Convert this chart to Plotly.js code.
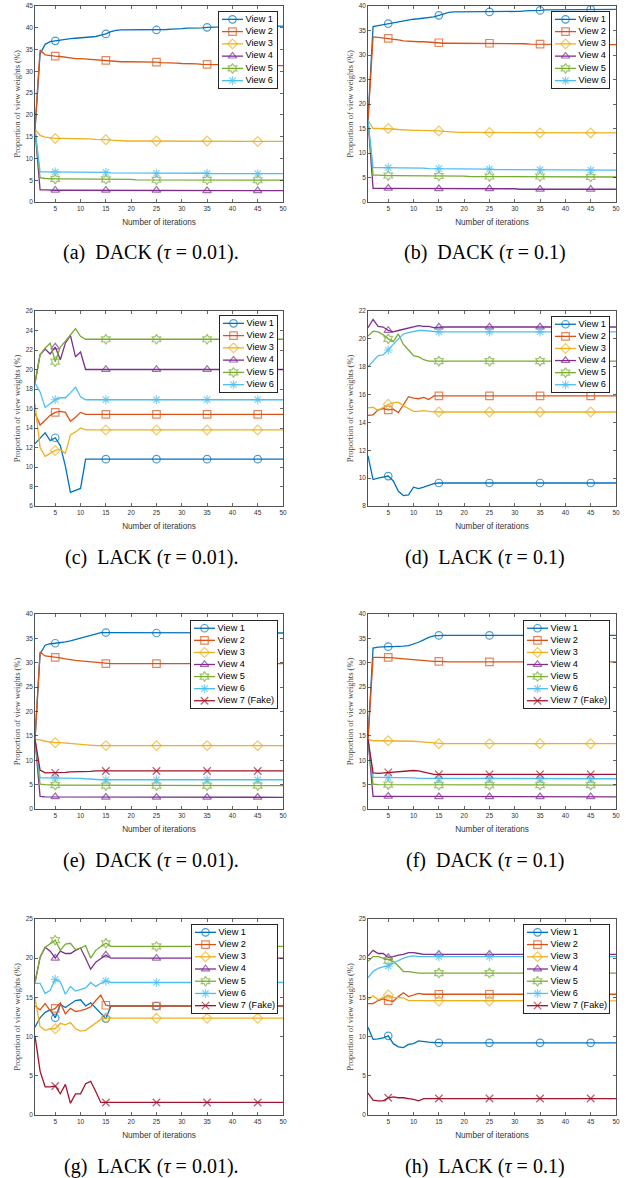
<!DOCTYPE html>
<html><head><meta charset="utf-8">
<script src="https://cdn.plot.ly/plotly-3.0.1.min.js"></script>
<style>html,body{margin:0;padding:0;background:#fff}#chart{width:639px;height:1178px}</style>
</head><body><div id="chart"></div>
<script>
// ---------------- DATA ----------------
const iterations = [1,2,3,4,5,6,7,8,9,10,11,12,13,14,15,16,17,18,19,20,21,22,23,24,25,26,27,28,29,30,31,32,33,34,35,36,37,38,39,40,41,42,43,44,45,46,47,48,49,50];
const viewNames = ['View 1','View 2','View 3','View 4','View 5','View 6','View 7 (Fake)'];
const markerIterations = [5,15,25,35,45];
const panelCaptions = [
  '(a)\u00a0 DACK (<i>\u03c4</i> = 0.01).',
  '(b)\u00a0 DACK (<i>\u03c4</i> = 0.1)',
  '(c)\u00a0 LACK (<i>\u03c4</i> = 0.01).',
  '(d)\u00a0 LACK (<i>\u03c4</i> = 0.1)',
  '(e)\u00a0 DACK (<i>\u03c4</i> = 0.01).',
  '(f)\u00a0 DACK (<i>\u03c4</i> = 0.1)',
  '(g)\u00a0 LACK (<i>\u03c4</i> = 0.01).',
  '(h)\u00a0 LACK (<i>\u03c4</i> = 0.1)'
];
const yRanges = [[0,45],[0,40],[6,26],[8,22],[0,40],[0,40],[0,25],[0,25]];
const yTickSteps = [5,5,2,2,5,5,5,5];

// (a) DACK tau=0.01
const a_v1 = [16.67,34.0,36.2,36.8,37.0,37.2,37.4,37.5,37.6,37.7,
 37.8,37.9,38.0,38.3,38.6,39.1,39.4,39.5,39.5,39.5,
 39.5,39.5,39.5,39.5,39.5,39.6,39.6,39.7,39.7,39.8,
 39.9,39.9,40.0,40.0,40.1,40.1,40.2,40.2,40.3,40.3,
 40.3,40.4,40.4,40.4,40.4,40.4,40.4,40.4,40.4,40.4];
const a_v2 = [16.67,34.9,33.8,33.6,33.5,33.4,33.2,33.0,32.9,32.9,
 32.8,32.8,32.7,32.6,32.5,32.4,32.3,32.2,32.2,32.2,
 32.2,32.1,32.1,32.1,32.1,32.0,32.0,31.9,31.9,31.8,
 31.8,31.7,31.7,31.6,31.6,31.6,31.5,31.5,31.5,31.5,
 31.4,31.4,31.4,31.4,31.3,31.3,31.3,31.3,31.3,31.3];
const a_v3 = [16.67,15.3,14.9,14.7,14.6,14.6,14.6,14.5,14.5,14.5,
 14.5,14.5,14.4,14.4,14.3,14.2,14.1,14.0,14.0,14.0,
 14.0,14.0,14.0,14.0,14.0,14.0,14.0,14.0,14.0,14.0,
 14.0,14.0,14.0,14.0,14.0,13.9,13.9,13.9,13.9,13.9,
 13.9,13.9,13.9,13.9,13.9,13.9,13.9,13.9,13.9,13.9];
const a_v4 = [16.67,2.8,2.8,2.7,2.7,2.7,2.7,2.7,2.7,2.7,
 2.7,2.7,2.7,2.7,2.7,2.7,2.7,2.7,2.7,2.7,
 2.7,2.7,2.7,2.7,2.7,2.7,2.7,2.7,2.7,2.7,
 2.6,2.6,2.6,2.6,2.6,2.6,2.6,2.6,2.6,2.6,
 2.6,2.6,2.6,2.6,2.6,2.6,2.6,2.6,2.6,2.6];
const a_v5 = [16.67,5.6,5.4,5.3,5.3,5.3,5.3,5.3,5.3,5.2,
 5.2,5.2,5.2,5.2,5.2,5.2,5.2,5.2,5.2,5.2,
 5.1,5.1,5.1,5.1,5.1,5.1,5.1,5.1,5.1,5.1,
 5.1,5.1,5.1,5.1,5.1,5.1,5.1,5.1,5.1,5.1,
 5.0,5.0,5.0,5.0,5.0,5.0,5.0,5.0,5.0,5.0];
const a_v6 = [16.67,6.9,6.9,6.9,6.9,6.9,6.8,6.8,6.8,6.8,
 6.8,6.8,6.8,6.8,6.8,6.7,6.7,6.7,6.7,6.7,
 6.6,6.6,6.6,6.6,6.6,6.6,6.6,6.6,6.6,6.6,
 6.6,6.6,6.6,6.6,6.6,6.5,6.5,6.5,6.5,6.5,
 6.5,6.5,6.5,6.5,6.5,6.5,6.5,6.5,6.5,6.5];

// (b) DACK tau=0.1
const b_v1 = [16.67,35.8,36.0,36.2,36.4,36.6,36.8,37.0,37.2,37.3,
 37.4,37.5,37.6,37.8,38.1,38.4,38.7,38.8,38.8,38.8,
 38.8,38.8,38.8,38.8,38.8,38.8,38.8,38.8,38.8,38.9,
 38.9,39.0,39.0,39.1,39.1,39.2,39.2,39.2,39.2,39.2,
 39.3,39.3,39.3,39.3,39.3,39.3,39.3,39.3,39.3,39.3];
const b_v2 = [16.67,33.7,33.6,33.5,33.4,33.3,33.1,32.9,32.8,32.8,
 32.7,32.7,32.6,32.6,32.5,32.4,32.4,32.4,32.4,32.4,
 32.4,32.4,32.4,32.4,32.4,32.3,32.3,32.3,32.3,32.3,
 32.3,32.3,32.2,32.2,32.2,32.2,32.1,32.1,32.1,32.1,
 32.1,32.1,32.1,32.1,32.1,32.1,32.1,32.1,32.1,32.1];
const b_v3 = [16.67,15.0,15.0,15.0,15.0,14.9,14.8,14.7,14.6,14.6,
 14.6,14.6,14.5,14.5,14.5,14.4,14.3,14.2,14.2,14.2,
 14.2,14.2,14.2,14.2,14.2,14.2,14.2,14.2,14.2,14.2,
 14.1,14.1,14.1,14.1,14.1,14.1,14.1,14.1,14.1,14.1,
 14.1,14.1,14.1,14.1,14.1,14.1,14.1,14.1,14.1,14.1];
const b_v4 = [16.67,2.8,2.8,2.8,2.8,2.7,2.7,2.7,2.7,2.7,
 2.7,2.7,2.7,2.7,2.7,2.7,2.7,2.7,2.7,2.7,
 2.7,2.7,2.7,2.7,2.7,2.7,2.7,2.7,2.7,2.7,
 2.6,2.6,2.6,2.6,2.6,2.6,2.6,2.6,2.6,2.6,
 2.6,2.6,2.6,2.6,2.6,2.6,2.6,2.6,2.6,2.6];
const b_v5 = [16.67,5.5,5.5,5.4,5.4,5.4,5.4,5.4,5.4,5.3,
 5.3,5.3,5.3,5.3,5.3,5.3,5.3,5.3,5.3,5.3,
 5.2,5.2,5.2,5.2,5.2,5.2,5.2,5.2,5.2,5.2,
 5.2,5.2,5.2,5.2,5.2,5.1,5.1,5.1,5.1,5.1,
 5.1,5.1,5.1,5.1,5.1,5.1,5.1,5.1,5.1,5.1];
const b_v6 = [16.67,7.0,7.0,7.0,7.0,6.9,6.9,6.9,6.9,6.9,
 6.9,6.9,6.8,6.8,6.8,6.8,6.8,6.8,6.7,6.7,
 6.7,6.7,6.7,6.7,6.7,6.6,6.6,6.6,6.6,6.6,
 6.6,6.6,6.6,6.6,6.6,6.6,6.6,6.6,6.6,6.6,
 6.5,6.5,6.5,6.5,6.5,6.5,6.5,6.5,6.5,6.5];

// (c) LACK tau=0.01
const c_v1 = [12.4,13.0,13.5,12.7,13.0,12.2,10.1,7.4,7.6,7.8,
 10.8,10.8,10.8,10.8,10.8,10.8,10.8,10.8,10.8,10.8,
 10.8,10.8,10.8,10.8,10.8,10.8,10.8,10.8,10.8,10.8,
 10.8,10.8,10.8,10.8,10.8,10.8,10.8,10.8,10.8,10.8,
 10.8,10.8,10.8,10.8,10.8,10.8,10.8,10.8,10.8,10.8];
const c_v2 = [15.5,14.3,14.8,15.3,15.6,15.7,15.6,14.7,15.1,15.6,
 15.4,15.4,15.4,15.4,15.4,15.4,15.4,15.4,15.4,15.4,
 15.4,15.4,15.4,15.4,15.4,15.4,15.4,15.4,15.4,15.4,
 15.4,15.4,15.4,15.4,15.4,15.4,15.4,15.4,15.4,15.4,
 15.4,15.4,15.4,15.4,15.4,15.4,15.4,15.4,15.4,15.4];
const c_v3 = [16.5,12.0,11.1,11.4,11.7,11.8,11.4,13.3,13.6,14.0,
 13.8,13.8,13.8,13.8,13.8,13.8,13.8,13.8,13.8,13.8,
 13.8,13.8,13.8,13.8,13.8,13.8,13.8,13.8,13.8,13.8,
 13.8,13.8,13.8,13.8,13.8,13.8,13.8,13.8,13.8,13.8,
 13.8,13.8,13.8,13.8,13.8,13.8,13.8,13.8,13.8,13.8];
const c_v4 = [18.6,21.5,22.1,21.6,22.3,21.0,22.7,23.5,21.3,21.8,
 20.0,20.0,20.0,20.0,20.0,20.0,20.0,20.0,20.0,20.0,
 20.0,20.0,20.0,20.0,20.0,20.0,20.0,20.0,20.0,20.0,
 20.0,20.0,20.0,20.0,20.0,20.0,20.0,20.0,20.0,20.0,
 20.0,20.0,20.0,20.0,20.0,20.0,20.0,20.0,20.0,20.0];
const c_v5 = [18.6,21.5,22.2,22.7,20.8,22.3,22.9,23.5,24.2,23.4,
 23.1,23.1,23.1,23.1,23.1,23.1,23.1,23.1,23.1,23.1,
 23.1,23.1,23.1,23.1,23.1,23.1,23.1,23.1,23.1,23.1,
 23.1,23.1,23.1,23.1,23.1,23.1,23.1,23.1,23.1,23.1,
 23.1,23.1,23.1,23.1,23.1,23.1,23.1,23.1,23.1,23.1];
const c_v6 = [18.6,17.7,16.1,16.5,16.9,17.1,17.1,17.6,18.2,17.2,
 16.9,16.9,16.9,16.9,16.9,16.9,16.9,16.9,16.9,16.9,
 16.9,16.9,16.9,16.9,16.9,16.9,16.9,16.9,16.9,16.9,
 16.9,16.9,16.9,16.9,16.9,16.9,16.9,16.9,16.9,16.9,
 16.9,16.9,16.9,16.9,16.9,16.9,16.9,16.9,16.9,16.9];

// (d) LACK tau=0.1
const d_v1 = [11.6,9.9,10.0,10.1,10.15,9.8,9.05,8.75,8.8,9.35,
 9.25,9.35,9.5,9.6,9.65,9.65,9.65,9.65,9.65,9.65,
 9.65,9.65,9.65,9.65,9.65,9.65,9.65,9.65,9.65,9.65,
 9.65,9.65,9.65,9.65,9.65,9.65,9.65,9.65,9.65,9.65,
 9.65,9.65,9.65,9.65,9.65,9.65,9.65,9.65,9.65,9.65];
const d_v2 = [14.5,14.55,14.9,15.0,14.9,14.95,14.7,15.3,15.85,15.75,
 15.7,15.8,15.65,15.9,15.9,15.9,15.9,15.9,15.9,15.9,
 15.9,15.9,15.9,15.9,15.9,15.9,15.9,15.9,15.9,15.9,
 15.9,15.9,15.9,15.9,15.9,15.9,15.9,15.9,15.9,15.9,
 15.9,15.9,15.9,15.9,15.9,15.9,15.9,15.9,15.9,15.9];
const d_v3 = [15.05,15.1,14.85,15.05,15.3,15.4,15.45,15.2,15.0,14.8,
 14.8,14.85,14.8,14.75,14.75,14.75,14.75,14.75,14.75,14.75,
 14.75,14.75,14.75,14.75,14.75,14.75,14.75,14.75,14.75,14.75,
 14.75,14.75,14.75,14.75,14.75,14.75,14.75,14.75,14.75,14.75,
 14.75,14.75,14.75,14.75,14.75,14.75,14.75,14.75,14.75,14.75];
const d_v4 = [20.8,21.4,20.9,20.85,20.6,20.5,20.6,20.7,20.8,20.9,
 20.95,20.9,20.9,20.8,20.85,20.85,20.85,20.85,20.85,20.85,
 20.85,20.85,20.85,20.85,20.85,20.85,20.85,20.85,20.85,20.85,
 20.85,20.85,20.85,20.85,20.85,20.85,20.85,20.85,20.85,20.85,
 20.85,20.85,20.85,20.85,20.85,20.85,20.85,20.85,20.85,20.85];
const d_v5 = [20.2,20.55,20.5,20.3,20.0,19.8,20.35,19.6,19.2,18.8,
 18.7,18.5,18.4,18.4,18.4,18.4,18.4,18.4,18.4,18.4,
 18.4,18.4,18.4,18.4,18.4,18.4,18.4,18.4,18.4,18.4,
 18.4,18.4,18.4,18.4,18.4,18.4,18.4,18.4,18.4,18.4,
 18.4,18.4,18.4,18.4,18.4,18.4,18.4,18.4,18.4,18.4];
const d_v6 = [18.0,18.4,18.8,18.85,19.2,19.6,20.0,20.35,20.45,20.55,
 20.6,20.6,20.55,20.5,20.5,20.5,20.5,20.5,20.5,20.5,
 20.5,20.5,20.5,20.5,20.5,20.5,20.5,20.5,20.5,20.5,
 20.5,20.5,20.5,20.5,20.5,20.5,20.5,20.5,20.5,20.5,
 20.5,20.5,20.5,20.5,20.5,20.5,20.5,20.5,20.5,20.5];

// (e) DACK tau=0.01 with fake view
const e_v1 = [14.29,31.8,33.6,33.9,34.0,34.1,34.3,34.5,34.8,35.1,
 35.4,35.7,36.0,36.2,36.2,36.2,36.2,36.2,36.1,36.1,
 36.1,36.1,36.1,36.1,36.1,36.1,36.1,36.1,36.1,36.1,
 36.1,36.1,36.1,36.1,36.1,36.1,36.1,36.1,36.1,36.1,
 36.1,36.1,36.1,36.1,36.1,36.1,36.1,36.1,36.1,36.1];
const e_v2 = [14.29,32.2,31.4,31.3,31.1,31.0,30.8,30.6,30.5,30.4,
 30.3,30.2,30.0,29.9,29.8,29.8,29.8,29.8,29.8,29.8,
 29.8,29.8,29.8,29.8,29.8,29.8,29.8,29.8,29.8,29.8,
 29.8,29.8,29.8,29.8,29.8,29.8,29.8,29.8,29.8,29.8,
 29.8,29.8,29.8,29.8,29.8,29.8,29.8,29.8,29.8,29.8];
const e_v3 = [14.29,14.2,13.9,13.7,13.6,13.6,13.5,13.5,13.4,13.3,
 13.2,13.1,13.0,13.0,13.0,13.0,13.0,13.0,13.0,13.0,
 13.0,13.0,13.0,13.0,13.0,13.0,13.0,13.0,13.0,13.0,
 13.0,13.0,13.0,13.0,13.0,13.0,13.0,13.0,13.0,13.0,
 13.0,13.0,13.0,13.0,13.0,13.0,13.0,13.0,13.0,13.0];
const e_v4 = [14.29,2.6,2.5,2.5,2.5,2.5,2.5,2.5,2.5,2.5,
 2.4,2.4,2.4,2.4,2.4,2.4,2.4,2.4,2.4,2.4,
 2.4,2.4,2.4,2.4,2.4,2.4,2.4,2.4,2.4,2.4,
 2.4,2.4,2.4,2.4,2.4,2.4,2.4,2.4,2.4,2.4,
 2.4,2.4,2.4,2.4,2.4,2.4,2.4,2.4,2.4,2.4];
const e_v5 = [14.29,5.1,5.0,4.9,4.9,4.9,4.9,4.9,4.9,4.8,
 4.8,4.8,4.8,4.8,4.8,4.8,4.8,4.8,4.8,4.8,
 4.8,4.8,4.8,4.8,4.8,4.8,4.8,4.8,4.8,4.8,
 4.8,4.8,4.8,4.8,4.8,4.8,4.8,4.8,4.8,4.8,
 4.8,4.8,4.8,4.8,4.8,4.8,4.8,4.8,4.8,4.8];
const e_v6 = [14.29,6.4,6.4,6.4,6.4,6.4,6.4,6.4,6.3,6.3,
 6.2,6.1,6.0,6.0,6.0,6.0,6.0,6.0,6.0,6.0,
 6.0,6.0,6.0,6.0,6.0,6.0,6.0,6.0,6.0,6.0,
 6.0,6.0,6.0,6.0,6.0,6.0,6.0,6.0,6.0,6.0,
 6.0,6.0,6.0,6.0,6.0,6.0,6.0,6.0,6.0,6.0];
const e_v7 = [14.29,8.0,7.4,7.4,7.4,7.5,7.5,7.6,7.6,7.7,
 7.7,7.7,7.8,7.8,7.8,7.8,7.8,7.8,7.8,7.8,
 7.8,7.8,7.8,7.8,7.8,7.8,7.8,7.8,7.8,7.8,
 7.8,7.8,7.8,7.8,7.8,7.8,7.8,7.8,7.8,7.8,
 7.8,7.8,7.8,7.8,7.8,7.8,7.8,7.8,7.8,7.8];

// (f) DACK tau=0.1 with fake view
const f_v1 = [14.29,33.0,33.2,33.3,33.3,33.3,33.3,33.4,33.5,33.8,
 34.2,34.7,35.2,35.5,35.6,35.6,35.6,35.6,35.6,35.6,
 35.6,35.6,35.6,35.6,35.6,35.6,35.6,35.6,35.6,35.6,
 35.6,35.6,35.6,35.6,35.6,35.6,35.6,35.6,35.6,35.6,
 35.6,35.6,35.6,35.6,35.6,35.6,35.6,35.6,35.6,35.6];
const f_v2 = [14.29,31.1,31.1,31.1,31.1,31.0,30.9,30.8,30.7,30.6,
 30.5,30.5,30.4,30.3,30.3,30.2,30.2,30.2,30.2,30.2,
 30.2,30.2,30.2,30.2,30.2,30.2,30.2,30.2,30.2,30.2,
 30.2,30.2,30.2,30.2,30.2,30.2,30.2,30.2,30.2,30.2,
 30.2,30.2,30.2,30.2,30.2,30.2,30.2,30.2,30.2,30.2];
const f_v3 = [14.29,14.0,14.0,14.0,14.0,14.0,14.0,14.0,14.0,13.9,
 13.8,13.7,13.6,13.5,13.4,13.4,13.4,13.4,13.4,13.4,
 13.4,13.4,13.4,13.4,13.4,13.4,13.4,13.4,13.4,13.4,
 13.4,13.4,13.4,13.4,13.4,13.4,13.4,13.4,13.4,13.4,
 13.4,13.4,13.4,13.4,13.4,13.4,13.4,13.4,13.4,13.4];
const f_v4 = [14.29,2.6,2.6,2.6,2.6,2.6,2.6,2.6,2.6,2.6,
 2.5,2.5,2.5,2.5,2.5,2.5,2.5,2.5,2.5,2.5,
 2.5,2.5,2.5,2.5,2.5,2.5,2.5,2.5,2.5,2.5,
 2.5,2.5,2.5,2.5,2.5,2.5,2.5,2.5,2.5,2.5,
 2.5,2.5,2.5,2.5,2.5,2.5,2.5,2.5,2.5,2.5];
const f_v5 = [14.29,5.1,5.0,5.0,5.0,5.0,5.0,5.0,5.0,4.9,
 4.9,4.9,4.9,4.9,4.9,4.9,4.9,4.9,4.9,4.9,
 4.9,4.9,4.9,4.9,4.9,4.9,4.9,4.9,4.9,4.9,
 4.9,4.9,4.9,4.9,4.9,4.9,4.9,4.9,4.9,4.9,
 4.9,4.9,4.9,4.9,4.9,4.9,4.9,4.9,4.9,4.9];
const f_v6 = [14.29,6.5,6.5,6.5,6.5,6.5,6.5,6.4,6.4,6.4,
 6.3,6.3,6.2,6.2,6.2,6.2,6.2,6.2,6.2,6.2,
 6.2,6.2,6.2,6.2,6.2,6.2,6.2,6.2,6.2,6.2,
 6.2,6.2,6.2,6.2,6.2,6.2,6.2,6.2,6.2,6.2,
 6.2,6.2,6.2,6.2,6.2,6.2,6.2,6.2,6.2,6.2];
const f_v7 = [14.29,7.4,7.3,7.4,7.5,7.6,7.7,7.8,7.9,7.9,
 7.8,7.6,7.3,7.1,7.1,7.1,7.1,7.1,7.1,7.1,
 7.1,7.1,7.1,7.1,7.1,7.1,7.1,7.1,7.1,7.1,
 7.1,7.1,7.1,7.1,7.1,7.1,7.1,7.1,7.1,7.1,
 7.1,7.1,7.1,7.1,7.1,7.1,7.1,7.1,7.1,7.1];

// (g) LACK tau=0.01 with fake view
const g_v1 = [11.2,12.4,13.1,13.4,12.4,14.1,13.7,14.2,14.6,14.7,
 13.9,14.3,13.6,12.9,12.3,13.9,13.9,13.9,13.9,13.9,
 13.9,13.9,13.9,13.9,13.9,13.9,13.9,13.9,13.9,13.9,
 13.9,13.9,13.9,13.9,13.9,13.9,13.9,13.9,13.9,13.9,
 13.9,13.9,13.9,13.9,13.9,13.9,13.9,13.9,13.9,13.9];
const g_v2 = [13.9,13.4,14.2,13.3,13.6,14.3,12.9,13.6,13.2,13.3,
 13.5,13.8,14.6,15.3,14.0,13.9,13.9,13.9,13.9,13.9,
 13.9,13.9,13.9,13.9,13.9,13.9,13.9,13.9,13.9,13.9,
 13.9,13.9,13.9,13.9,13.9,13.9,13.9,13.9,13.9,13.9,
 13.9,13.9,13.9,13.9,13.9,13.9,13.9,13.9,13.9,13.9];
const g_v3 = [14.9,11.3,10.8,11.0,11.0,11.7,11.5,11.8,11.0,10.7,
 10.8,11.3,11.8,12.2,12.4,12.35,12.35,12.35,12.35,12.35,
 12.35,12.35,12.35,12.35,12.35,12.35,12.35,12.35,12.35,12.35,
 12.35,12.35,12.35,12.35,12.35,12.35,12.35,12.35,12.35,12.35,
 12.35,12.35,12.35,12.35,12.35,12.35,12.35,12.35,12.35,12.35];
const g_v4 = [16.9,20.1,21.4,20.9,20.0,20.9,20.6,20.6,21.0,21.3,
 20.0,18.6,19.5,20.0,20.4,20.0,20.0,20.0,20.0,20.0,
 20.0,20.0,20.0,20.0,20.0,20.0,20.0,20.0,20.0,20.0,
 20.0,20.0,20.0,20.0,20.0,20.0,20.0,20.0,20.0,20.0,
 20.0,20.0,20.0,20.0,20.0,20.0,20.0,20.0,20.0,20.0];
const g_v5 = [16.9,20.1,21.4,21.9,22.3,21.0,21.8,21.9,21.1,21.3,
 21.6,20.0,21.0,21.5,21.9,21.5,21.5,21.5,21.5,21.5,
 21.5,21.5,21.5,21.5,21.5,21.5,21.5,21.5,21.5,21.5,
 21.5,21.5,21.5,21.5,21.5,21.5,21.5,21.5,21.5,21.5,
 21.5,21.5,21.5,21.5,21.5,21.5,21.5,21.5,21.5,21.5];
const g_v6 = [16.8,16.8,15.5,15.9,17.3,17.0,15.4,16.4,15.8,16.0,
 16.2,16.9,16.4,16.8,17.1,16.9,16.9,16.9,16.9,16.9,
 16.9,16.9,16.9,16.9,16.9,16.9,16.9,16.9,16.9,16.9,
 16.9,16.9,16.9,16.9,16.9,16.9,16.9,16.9,16.9,16.9,
 16.9,16.9,16.9,16.9,16.9,16.9,16.9,16.9,16.9,16.9];
const g_v7 = [10.1,5.6,3.6,3.6,3.7,2.7,3.9,1.5,2.7,2.7,
 4.0,4.3,3.0,1.6,1.6,1.6,1.6,1.6,1.6,1.6,
 1.6,1.6,1.6,1.6,1.6,1.6,1.6,1.6,1.6,1.6,
 1.6,1.6,1.6,1.6,1.6,1.6,1.6,1.6,1.6,1.6,
 1.6,1.6,1.6,1.6,1.6,1.6,1.6,1.6,1.6,1.6];

// (h) LACK tau=0.1 with fake view
const h_v1 = [11.2,9.65,9.7,9.85,10.1,9.1,8.7,8.6,9.0,9.1,
 9.45,9.35,9.3,9.25,9.2,9.2,9.2,9.2,9.2,9.2,
 9.2,9.2,9.2,9.2,9.2,9.2,9.2,9.2,9.2,9.2,
 9.2,9.2,9.2,9.2,9.2,9.2,9.2,9.2,9.2,9.2,
 9.2,9.2,9.2,9.2,9.2,9.2,9.2,9.2,9.2,9.2];
const h_v2 = [14.2,14.2,14.6,14.8,14.6,14.5,15.1,15.6,15.1,15.3,
 15.5,15.4,15.4,15.4,15.4,15.4,15.4,15.4,15.4,15.4,
 15.4,15.4,15.4,15.4,15.4,15.4,15.4,15.4,15.4,15.4,
 15.4,15.4,15.4,15.4,15.4,15.4,15.4,15.4,15.4,15.4,
 15.4,15.4,15.4,15.4,15.4,15.4,15.4,15.4,15.4,15.4];
const h_v3 = [14.7,15.2,14.7,15.0,15.3,15.0,15.0,14.95,14.6,14.6,
 14.6,14.55,14.55,14.55,14.55,14.55,14.55,14.55,14.55,14.55,
 14.55,14.55,14.55,14.55,14.55,14.55,14.55,14.55,14.55,14.55,
 14.55,14.55,14.55,14.55,14.55,14.55,14.55,14.55,14.55,14.55,
 14.55,14.55,14.55,14.55,14.55,14.55,14.55,14.55,14.55,14.55];
const h_v4 = [20.3,21.0,20.6,20.6,20.1,20.2,20.4,20.5,20.7,20.7,
 20.6,20.5,20.5,20.5,20.5,20.5,20.5,20.5,20.5,20.5,
 20.5,20.5,20.5,20.5,20.5,20.5,20.5,20.5,20.5,20.5,
 20.5,20.5,20.5,20.5,20.5,20.5,20.5,20.5,20.5,20.5,
 20.5,20.5,20.5,20.5,20.5,20.5,20.5,20.5,20.5,20.5];
const h_v5 = [19.6,20.2,20.2,20.0,19.7,19.6,19.0,18.3,18.3,18.2,
 18.1,18.1,18.1,18.1,18.1,18.1,18.1,18.1,18.1,18.1,
 18.1,18.1,18.1,18.1,18.1,18.1,18.1,18.1,18.1,18.1,
 18.1,18.1,18.1,18.1,18.1,18.1,18.1,18.1,18.1,18.1,
 18.1,18.1,18.1,18.1,18.1,18.1,18.1,18.1,18.1,18.1];
const h_v6 = [17.5,18.3,18.7,18.9,19.0,19.4,19.7,20.0,20.2,20.3,
 20.2,20.2,20.2,20.2,20.2,20.2,20.2,20.2,20.2,20.2,
 20.2,20.2,20.2,20.2,20.2,20.2,20.2,20.2,20.2,20.2,
 20.2,20.2,20.2,20.2,20.2,20.2,20.2,20.2,20.2,20.2,
 20.2,20.2,20.2,20.2,20.2,20.2,20.2,20.2,20.2,20.2];
const h_v7 = [2.8,1.9,1.8,1.8,2.2,2.3,2.2,2.2,2.1,2.0,
 1.8,2.1,2.1,2.1,2.1,2.1,2.1,2.1,2.1,2.1,
 2.1,2.1,2.1,2.1,2.1,2.1,2.1,2.1,2.1,2.1,
 2.1,2.1,2.1,2.1,2.1,2.1,2.1,2.1,2.1,2.1,
 2.1,2.1,2.1,2.1,2.1,2.1,2.1,2.1,2.1,2.1];

const panelSeries = [
  [a_v1,a_v2,a_v3,a_v4,a_v5,a_v6],
  [b_v1,b_v2,b_v3,b_v4,b_v5,b_v6],
  [c_v1,c_v2,c_v3,c_v4,c_v5,c_v6],
  [d_v1,d_v2,d_v3,d_v4,d_v5,d_v6],
  [e_v1,e_v2,e_v3,e_v4,e_v5,e_v6,e_v7],
  [f_v1,f_v2,f_v3,f_v4,f_v5,f_v6,f_v7],
  [g_v1,g_v2,g_v3,g_v4,g_v5,g_v6,g_v7],
  [h_v1,h_v2,h_v3,h_v4,h_v5,h_v6,h_v7]
];

// ---------------- STYLE / LAYOUT ----------------
const viewColors = ['#0072BD','#D95319','#EDB120','#7E2F8E','#77AC30','#4DBEEE','#A2142F'];
const viewSymbols = ['circle-open','square-open','diamond-open','triangle-up-open','hexagram-open','asterisk-open','x-thin-open'];
const W = 639, H = 1178;
const colPx = [[35, 283], [368, 616]];
const rowPx = [[6, 202], [311, 506], [614, 809], [919, 1115]];
const legendPx = [[219,12,277,88],[552,12,609,88],[220,316,277,392],[552,317,609,392],
                  [191,621,277,708],[524,621,609,708],[192,925,277,1013],[524,925,609,1013]];
const captionCx = [151, 485];
const AX = '#262626';
const tickFont = {family:'Liberation Sans, Arial, sans-serif', size:6.5, color:'#333'};
const MS = 7.5;

const traces = [];
const layout = {
  width: W, height: H, margin: {l:0, r:0, t:0, b:0},
  paper_bgcolor: '#fff', plot_bgcolor: '#fff', showlegend: false,
  font: {family: 'Liberation Sans, Arial, sans-serif'},
  annotations: []
};

panelSeries.forEach((series, k) => {
  const n = k + 1, sfx = n === 1 ? '' : String(n);
  const c = k % 2, r = Math.floor(k / 2);
  const markerSize = iterations.map(t => markerIterations.includes(t) ? MS : 0);
  const markerLW = iterations.map(t => markerIterations.includes(t) ? 1.2 : 0);
  series.forEach((ys, i) => {
    traces.push({
      type: 'scatter', mode: 'lines+markers', name: viewNames[i],
      x: iterations, y: ys, xaxis: 'x' + sfx, yaxis: 'y' + sfx,
      line: {color: viewColors[i], width: 1.3},
      marker: {symbol: viewSymbols[i], color: viewColors[i], size: markerSize,
               line: {color: viewColors[i], width: markerLW}},
      hoverinfo: 'skip', showlegend: false
    });
  });
  layout['xaxis' + sfx] = {
    domain: [colPx[c][0] / W, colPx[c][1] / W], anchor: 'y' + sfx,
    range: [1, 50], tick0: 0, dtick: 5,
    ticks: 'inside', ticklen: 3, tickwidth: 0.7, tickcolor: AX,
    showline: true, linecolor: AX, linewidth: 0.8, mirror: 'ticks',
    showgrid: false, zeroline: false, tickfont: tickFont,
    title: {text: 'Number of iterations', standoff: 8,
            font: {family: 'Liberation Sans, Arial, sans-serif', size: 8.2, color: '#333'}}
  };
  layout['yaxis' + sfx] = {
    domain: [1 - rowPx[r][1] / H, 1 - rowPx[r][0] / H], anchor: 'x' + sfx,
    range: yRanges[k], tick0: 0, dtick: yTickSteps[k],
    ticks: 'inside', ticklen: 3, tickwidth: 0.7, tickcolor: AX,
    showline: true, linecolor: AX, linewidth: 0.8, mirror: 'ticks',
    showgrid: false, zeroline: false, tickfont: tickFont,
    title: {text: 'Proportion of view weights (%)', standoff: 3,
            font: {family: 'Liberation Serif, Times New Roman, serif', size: 8.5, color: '#444'}}
  };
  // legend box drawn as a small overlay subplot
  const m = n + 8, lb = legendPx[k], nv = series.length;
  layout['xaxis' + m] = {
    domain: [lb[0] / W, lb[2] / W], anchor: 'y' + m, range: [0, lb[2] - lb[0]],
    showline: true, mirror: true, linecolor: AX, linewidth: 1,
    ticks: '', showticklabels: false, showgrid: false, zeroline: false, fixedrange: true
  };
  layout['yaxis' + m] = {
    domain: [1 - lb[3] / H, 1 - lb[1] / H], anchor: 'x' + m, range: [nv + 0.6, 0.4],
    showline: true, mirror: true, linecolor: AX, linewidth: 1,
    ticks: '', showticklabels: false, showgrid: false, zeroline: false, fixedrange: true
  };
  series.forEach((ys, i) => {
    traces.push({
      type: 'scatter', mode: 'lines+markers+text',
      x: [3, 13.5, 24], y: [i + 1, i + 1, i + 1], xaxis: 'x' + m, yaxis: 'y' + m,
      text: ['', '', '\u00a0' + viewNames[i]], textposition: 'middle right',
      textfont: {family: 'Liberation Sans, Arial, sans-serif', size: 9.2, color: '#000'},
      line: {color: viewColors[i], width: 1.3},
      marker: {symbol: viewSymbols[i], color: viewColors[i], size: [0, MS, 0],
               line: {color: viewColors[i], width: [0, 1.2, 0]}},
      cliponaxis: false, hoverinfo: 'skip', showlegend: false
    });
  });
  layout.annotations.push({
    xref: 'paper', yref: 'paper', x: captionCx[c] / W, y: 1 - (rowPx[r][1] + 51) / H,
    xanchor: 'center', yanchor: 'middle', showarrow: false, text: panelCaptions[k],
    font: {family: 'Liberation Serif, Times New Roman, serif', size: 20, color: '#000'}
  });
});

Plotly.newPlot('chart', traces, layout, {staticPlot: true, displayModeBar: false});
</script>
</body></html>
